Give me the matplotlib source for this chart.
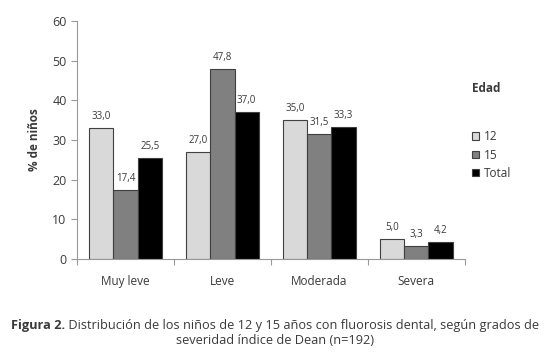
import numpy as np
from matplotlib import pyplot as plt
from matplotlib.patches import Patch

categories = ["Muy leve", "Leve", "Moderada", "Severa"]
series_names = ["12", "15", "Total"]
edad_12 = [33.0, 27.0, 35.0, 5.0]
edad_15 = [17.4, 47.8, 31.5, 3.3]
total = [25.5, 37.0, 33.3, 4.2]
colors = ["#d9d9d9", "#808080", "#000000"]

plt.rcParams["font.family"] = ["Open Sans", "DejaVu Sans"]
txt = "#3a3a3a"

fig = plt.figure(figsize=(5.5, 3.6), dpi=100)
ax = fig.add_axes([0.14, 0.281, 0.705, 0.661])

x = np.arange(len(categories))
w = 0.25
for i, (vals, c) in enumerate(zip([edad_12, edad_15, total], colors)):
    pos = x + (i - 1) * w
    ax.bar(pos, vals, width=w, color=c, edgecolor="#404040", linewidth=0.8)
    for p, v in zip(pos, vals):
        ax.text(p, v + 1.5, f"{v:.1f}".replace(".", ","), ha="center", va="bottom",
                fontsize=7, color=txt)

ax.set_xlim(-0.5, 3.5)
ax.set_ylim(0, 60)
ax.set_yticks(range(0, 61, 10))
ax.set_xticks(np.arange(-0.5, 4, 1))
ax.set_xticklabels([])
ax.tick_params(axis="x", length=4, color="#999999")
ax.tick_params(axis="y", length=4, color="#999999", labelsize=9, labelcolor=txt)
for i, cat in enumerate(categories):
    ax.text(i, -4, cat, ha="center", va="top", fontsize=8.5, color=txt)

for s in ["top", "right"]:
    ax.spines[s].set_visible(False)
for s in ["left", "bottom"]:
    ax.spines[s].set_color("#999999")

ax.set_ylabel("% de niños", fontsize=8.5, fontweight="bold", color=txt, labelpad=8)

# legend: title placed separately, it sits well above the entries
fig.text(0.858, 0.755, "Edad", fontsize=8.5, fontweight="bold", color=txt,
         ha="left", va="center")
handles = [Patch(facecolor=c, edgecolor="#404040", linewidth=0.8) for c in colors]
leg = ax.legend(handles, series_names, loc="upper left",
                bbox_to_anchor=(1.0, 0.57), frameon=False, fontsize=8.5,
                handlelength=0.6, handleheight=0.6, handletextpad=0.4,
                labelspacing=0.45, borderaxespad=0.2)
for t in leg.get_texts():
    t.set_color(txt)

# caption with bold "Figura 2."
cap_size = 9.2
line1_a = "Figura 2."
line1_b = " Distribución de los niños de 12 y 15 años con fluorosis dental, según grados de"
fig.canvas.draw()
r = fig.canvas.get_renderer()
ta = fig.text(0, 0.097, line1_a, fontsize=cap_size, fontweight="bold", color=txt, va="center")
tb = fig.text(0, 0.097, line1_b, fontsize=cap_size, color=txt, va="center")
wa = ta.get_window_extent(r).width
wb = tb.get_window_extent(r).width
W = fig.bbox.width
x0 = (W - wa - wb) / 2
ta.set_x(x0 / W)
tb.set_x((x0 + wa) / W)
fig.text(0.5, 0.053, "severidad índice de Dean (n=192)",
         ha="center", va="center", fontsize=cap_size, color=txt)

fig.savefig("out.png", dpi=100)
